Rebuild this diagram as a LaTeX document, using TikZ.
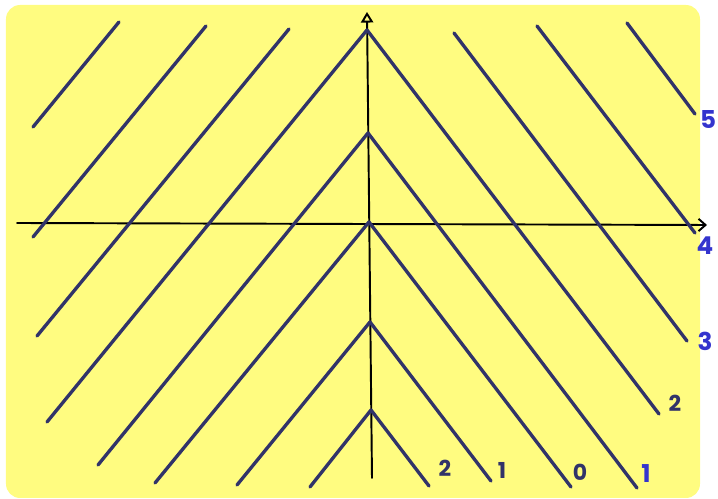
\documentclass[tikz,border=0pt]{standalone}
\usepackage{fontspec}
\newfontfamily\handfont{Poppins}
\usetikzlibrary{arrows.meta}
\definecolor{padyellow}{RGB}{255,252,128}
\definecolor{inkblue}{RGB}{49,51,105}
\definecolor{labelblue}{RGB}{52,52,206}
\tikzset{
  levelline/.style={line width=1.9pt,color=inkblue,line cap=round,line join=round},
  axisline/.style={line width=1.1pt,color=black,line cap=round},
  darklabel/.style={font=\handfont\bfseries\fontsize{12.5}{13}\selectfont,color=inkblue},
  bluelabel/.style={font=\handfont\bfseries\fontsize{14}{14}\selectfont,color=labelblue},
}
\begin{document}
\begin{tikzpicture}[x=0.02cm,y=-0.02cm]
\useasboundingbox (0,0) rectangle (718,499);
\fill[padyellow,rounded corners=8pt](6,5) rectangle (700,498);
% axes
\draw[axisline,-{Straight Barb[length=4pt,width=7pt]}](17,223)--(707,225);
\draw[axisline,-{Triangle[open,length=6pt,width=7pt]}](372,478)--(367,12);
% V shapes with apex on the vertical axis
\foreach \xl/\yl/\xa/\ya/\xr/\yr in {47/422/367/30/659/414,
    98/465/368/133/637/488, 155/483/369/222/571/487,
    237/485/370/322/491/481, 310/487/371/410/429/486}
  \draw[levelline](\xl,\yl)--(\xa,\ya)--(\xr,\yr);
% single lines left and right
\foreach \xa/\ya/\xb/\yb in {33/127/119/22, 33/237/206/26, 37/336/289/29,
    454/33/687/341, 537/26/695/233, 627/23/695/114}
  \draw[levelline](\xa,\ya)--(\xb,\yb);
% level labels
\node[darklabel](lab2a) at(445,468){2};
\node[darklabel](lab1a) at(502,470){1};
\node[darklabel](lab0)  at(580,472){0};
\node[darklabel](lab2b) at(675,403){2};
\node[bluelabel](lab1b) at(646,474){1};
\node[bluelabel](lab3)  at(705,341){3};
\node[bluelabel](lab4)  at(705,246){4};
\node[bluelabel](lab5)  at(708,120){5};
\end{tikzpicture}
\end{document}
